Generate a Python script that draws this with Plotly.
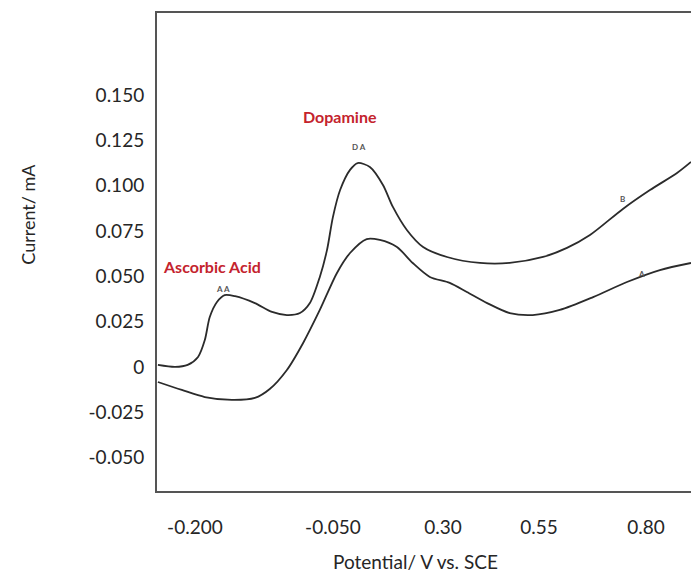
import plotly.graph_objects as go

# Curve B (upper)
b_x = [-0.282, -0.244, -0.216, -0.193, -0.178, -0.167, -0.151, -0.134, -0.111, -0.067,
       -0.029, 0.004, 0.033, 0.055, 0.077, 0.093, 0.106, 0.122, 0.144, 0.161,
       0.188, 0.217, 0.239, 0.270, 0.306, 0.359, 0.432, 0.498, 0.572, 0.625,
       0.676, 0.749, 0.809, 0.869, 0.900]
b_y = [0.0012, 0.0001, 0.0012, 0.0056, 0.0149, 0.0276, 0.0359, 0.0397, 0.0391, 0.0353,
       0.0304, 0.0287, 0.0298, 0.0353, 0.0497, 0.0646, 0.0827, 0.0976, 0.1087, 0.1125,
       0.1103, 0.1004, 0.0883, 0.0756, 0.0662, 0.0607, 0.0574, 0.0574, 0.0607, 0.0657,
       0.0728, 0.0872, 0.0976, 0.1070, 0.1131]

# Curve A (lower)
a_x = [-0.282, -0.229, -0.178, -0.118, -0.067, -0.034, 0.004, 0.040, 0.077, 0.115,
       0.144, 0.181, 0.210, 0.248, 0.283, 0.321, 0.365, 0.403, 0.448, 0.498,
       0.549, 0.609, 0.683, 0.758, 0.831, 0.900]
a_y = [-0.0082, -0.0126, -0.0165, -0.0181, -0.0170, -0.0121, -0.0016, 0.0133, 0.0315, 0.0519,
       0.0629, 0.0706, 0.0701, 0.0662, 0.0574, 0.0497, 0.0464, 0.0414, 0.0353, 0.0298,
       0.0287, 0.0315, 0.0386, 0.0469, 0.0535, 0.0574]

x_tick_pos = [-0.200, 0.106, 0.350, 0.563, 0.800]
x_tick_text = ["-0.200", "-0.050", "0.30", "0.55", "0.80"]
y_tick_vals = [0.150, 0.125, 0.100, 0.075, 0.050, 0.025, 0.0, -0.025, -0.050]
y_tick_text = ["0.150", "0.125", "0.100", "0.075", "0.050", "0.025", "0", "-0.025", "-0.050"]

FONT = "Lato"
LINE = "#2b2b2b"
RED = "#c4232d"
TXT = "#262626"

fig = go.Figure()
for xs, ys in [(b_x, b_y), (a_x, a_y)]:
    fig.add_trace(go.Scatter(x=xs, y=ys, mode="lines",
                             line=dict(color=LINE, width=1.8, shape="spline", smoothing=0.8),
                             showlegend=False, hoverinfo="skip"))

fig.add_annotation(x=0.1215, y=0.1379, text="<b>Dopamine</b>", showarrow=False,
                   font=dict(family=FONT, size=16, color=RED))
fig.add_annotation(x=-0.1623, y=0.0552, text="<b>Ascorbic Acid</b>", showarrow=False,
                   font=dict(family=FONT, size=16, color=RED))
fig.add_annotation(x=0.1636, y=0.1213, text="<b>D A</b>", showarrow=False,
                   font=dict(family=FONT, size=8, color="#555"))
fig.add_annotation(x=-0.1379, y=0.0431, text="<b>A A</b>", showarrow=False,
                   font=dict(family=FONT, size=8, color="#555"))
fig.add_annotation(x=0.749, y=0.0927, text="<b>B</b>", showarrow=False,
                   font=dict(family=FONT, size=8, color="#555"))
fig.add_annotation(x=0.791, y=0.0513, text="<b>A</b>", showarrow=False,
                   font=dict(family=FONT, size=8, color="#555"))

fig.add_annotation(xref="paper", yref="paper", x=-0.2416, y=0.58,
                   xanchor="center", yanchor="middle",
                   text="Current/ mA", textangle=-90, showarrow=False,
                   font=dict(family=FONT, size=18, color=TXT))
fig.add_annotation(xref="paper", yref="paper", x=0.485, y=-0.148,
                   xanchor="center", yanchor="middle",
                   text="Potential/ V vs. SCE", showarrow=False,
                   font=dict(family=FONT, size=19, color=TXT))

fig.update_xaxes(range=[-0.284, 0.900], tickvals=x_tick_pos, ticktext=x_tick_text,
                 showgrid=False, zeroline=False, showline=True, linecolor="#555",
                 linewidth=2, mirror=True, ticks="", ticklabelstandoff=18,
                 tickfont=dict(family=FONT, size=19, color=TXT))
fig.update_yaxes(range=[-0.0683, 0.1952], tickvals=y_tick_vals, ticktext=y_tick_text,
                 showgrid=False, zeroline=False, showline=True, linecolor="#555",
                 linewidth=2, mirror=False, ticks="", ticklabelstandoff=7,
                 tickfont=dict(family=FONT, size=19, color=TXT))

fig.update_layout(width=691, height=578, margin=dict(l=157, r=0, t=13, b=87),
                  paper_bgcolor="white", plot_bgcolor="white")

fig.write_html("out.html", config={"displayModeBar": False, "staticPlot": True},
               post_script="document.body.style.margin='0';document.body.style.overflow='hidden';")
